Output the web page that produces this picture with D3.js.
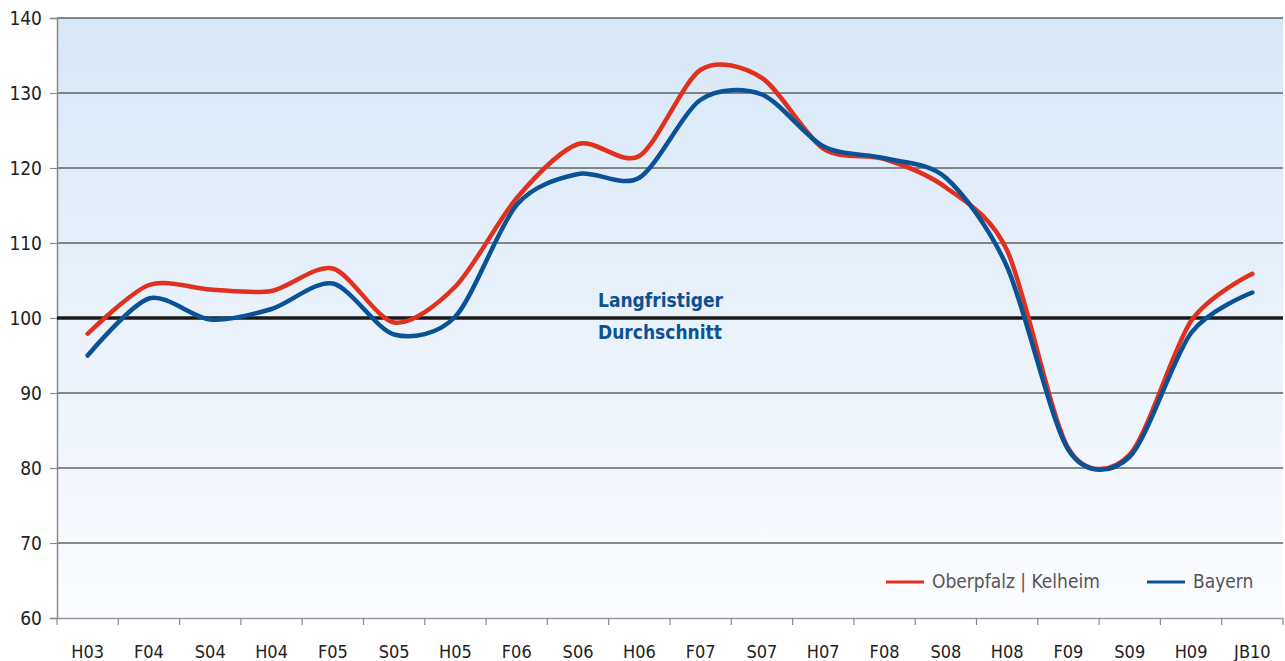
<!DOCTYPE html>
<html>
<head>
<meta charset="utf-8">
<script src="https://cdn.jsdelivr.net/npm/d3@7"></script>
<style>
  body { margin: 0; background: #fff; }
  svg text { font-family: "DejaVu Sans", sans-serif; font-stretch: condensed; }
</style>
</head>
<body>
<div id="container"></div>
<script>
/* DATA */
var categories = ["H03", "F04", "S04", "H04", "F05", "S05", "H05", "F06", "S06", "H06",
  "F07", "S07", "H07", "F08", "S08", "H08", "F09", "S09", "H09", "JB10"];
var oberpfalz = [97.9, 104.4, 103.8, 103.6, 106.6, 99.4, 104.2, 116.0, 123.2, 121.6,
  133.1, 132.0, 122.6, 121.2, 117.4, 109.0, 82.6, 81.8, 99.6, 105.9];
var bayern = [95.0, 102.6, 99.8, 101.2, 104.6, 97.8, 100.2, 115.1, 119.2, 118.7,
  129.1, 129.8, 122.9, 121.3, 118.7, 106.8, 82.4, 81.5, 98.0, 103.4];
var yTicks = [60, 70, 80, 90, 100, 110, 120, 130, 140];
var seriesNames = ["Oberpfalz | Kelheim", "Bayern"];
var seriesColors = ["#e0301e", "#0a5296"];

/* CONSTANTS */
var W = 1285, H = 661;
var plot = { left: 57, right: 1283, top: 18, bottom: 618 };

var svg = d3.select("#container").append("svg")
  .attr("width", W)
  .attr("height", H);

// background gradient
var grad = svg.append("defs").append("linearGradient")
  .attr("id", "bg").attr("x1", 0).attr("y1", 0).attr("x2", 0).attr("y2", 1);
grad.append("stop").attr("offset", "0%").attr("stop-color", "#d8e7f6");
grad.append("stop").attr("offset", "100%").attr("stop-color", "#fbfcff");

svg.append("rect")
  .attr("x", plot.left).attr("y", plot.top)
  .attr("width", plot.right - plot.left).attr("height", plot.bottom - plot.top)
  .attr("fill", "url(#bg)");

// SCALES
var x = d3.scaleBand().domain(categories).range([plot.left, plot.right]).padding(0);
var y = d3.scaleLinear().domain([60, 140]).range([plot.bottom, plot.top]);

// gridlines
svg.append("g")
  .selectAll("line")
  .data(yTicks.filter(d => d != 60 && d != 100))
  .enter().append("line")
  .attr("x1", plot.left).attr("x2", plot.right)
  .attr("y1", d => y(d)).attr("y2", d => y(d))
  .attr("stroke", "#626262")
  .attr("stroke-width", 1.6);

// y axis
var yAxis = svg.append("g")
  .attr("transform", "translate(" + plot.left + ",0)")
  .call(d3.axisLeft(y).tickValues(yTicks).tickSize(7).tickPadding(8));
yAxis.select(".domain").attr("stroke", "#8a8a8a").attr("stroke-width", 1.5);
yAxis.selectAll(".tick line").attr("stroke", "#8a8a8a").attr("stroke-width", 1.2);
yAxis.selectAll("text").attr("font-size", "19px").attr("fill", "#222");

// x axis: labels at band centres, ticks on band edges
var xAxis = svg.append("g")
  .attr("transform", "translate(0," + plot.bottom + ")")
  .call(d3.axisBottom(x).tickSize(0).tickPadding(27).tickSizeOuter(0));
xAxis.select(".domain").attr("stroke", "#9a9a9a").attr("stroke-width", 1.5);
xAxis.selectAll("text").attr("font-size", "18px").attr("fill", "#222");

xAxis.selectAll(".edge")
  .data(d3.range(categories.length + 1))
  .enter().append("line")
  .attr("class", "edge")
  .attr("x1", i => plot.left + i * x.step()).attr("x2", i => plot.left + i * x.step())
  .attr("y1", 0).attr("y2", 7)
  .attr("stroke", "#8a8a8a")
  .attr("stroke-width", 1.2);

// long-term average line
svg.append("line")
  .attr("x1", plot.left).attr("x2", plot.right)
  .attr("y1", y(100)).attr("y2", y(100))
  .attr("stroke", "#1a1a1a")
  .attr("stroke-width", 3.5);

svg.append("text")
  .attr("x", 598).attr("y", 307)
  .attr("font-size", "19px").attr("font-weight", "bold")
  .attr("fill", "#0d518f")
  .text("Langfristiger");
svg.append("text")
  .attr("x", 598).attr("y", 339)
  .attr("font-size", "19px").attr("font-weight", "bold")
  .attr("fill", "#0d518f")
  .text("Durchschnitt");

// LINES (smoothed like the original spreadsheet chart)
var line = d3.line()
  .x((d, i) => x(categories[i]) + x.bandwidth() / 2)
  .y(d => y(d))
  .curve(d3.curveCardinal.tension(0.15));

[oberpfalz, bayern].forEach(function (vals, k) {
  svg.append("path")
    .datum(vals)
    .attr("d", line)
    .attr("fill", "none")
    .attr("stroke", seriesColors[k])
    .attr("stroke-width", 4.5)
    .attr("stroke-linecap", "round")
    .attr("stroke-linejoin", "round");
});

// LEGEND
var legendX = [886, 1147];
var legend = svg.append("g");
seriesNames.forEach(function (name, k) {
  legend.append("line")
    .attr("x1", legendX[k]).attr("x2", legendX[k] + 38)
    .attr("y1", 582).attr("y2", 582)
    .attr("stroke", seriesColors[k])
    .attr("stroke-width", 3);
  legend.append("text")
    .attr("x", legendX[k] + 46).attr("y", 588)
    .attr("font-size", "19px")
    .attr("fill", "#555")
    .text(name);
});
</script>
</body>
</html>
